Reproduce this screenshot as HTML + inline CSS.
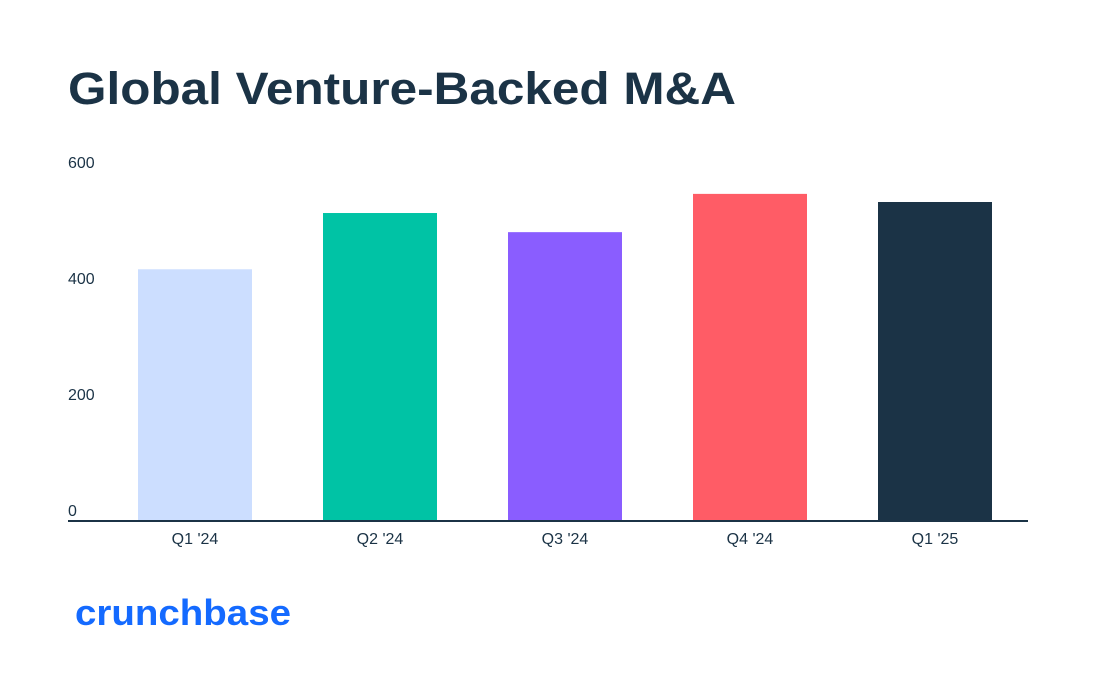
<!DOCTYPE html>
<html><head><meta charset="utf-8"><style>
body{margin:0;background:#fff;width:1100px;height:686px;overflow:hidden;font-family:"Liberation Sans",sans-serif}
</style></head><body>
<svg width="1100" height="686" xmlns="http://www.w3.org/2000/svg">
<text x="68" y="104" font-size="45" font-weight="bold" fill="#1b3346" textLength="668" lengthAdjust="spacingAndGlyphs">Global Venture-Backed M&amp;A</text>
<g id="bars"></g>
<g id="yticks"></g>
<g id="xticks"></g>
<line x1="68" x2="1028" y1="521" y2="521" stroke="#1b3346" stroke-width="2"/>
<text x="75" y="625" font-size="36" font-weight="bold" fill="#146aff" textLength="216" lengthAdjust="spacingAndGlyphs">crunchbase</text>
</svg>
<script>
const categories=["Q1 '24","Q2 '24","Q3 '24","Q4 '24","Q1 '25"];
const values=[434,531,498,564,550];
const colors=["#ccdeff","#00c3a5","#8a5dff","#ff5c66","#1b3346"];
const yTicks=[0,200,400,600];
const ns="http://www.w3.org/2000/svg";
const y=v=>521-v*0.58;
const xc=i=>195+i*185;
const bw=114;
const bars=document.getElementById('bars'),yt=document.getElementById('yticks'),xt=document.getElementById('xticks');
values.forEach((v,i)=>{
 const r=document.createElementNS(ns,'rect');
 r.setAttribute('x',xc(i)-bw/2);r.setAttribute('y',y(v));r.setAttribute('width',bw);r.setAttribute('height',521-y(v));r.setAttribute('fill',colors[i]);
 
 
 bars.appendChild(r);
 const t=document.createElementNS(ns,'text');
 t.setAttribute('x',xc(i));t.setAttribute('y',544);t.setAttribute('text-anchor','middle');t.setAttribute('font-size','16');t.setAttribute('fill','#1b3346');
 t.textContent=categories[i];
 
 
 xt.appendChild(t);
});
yTicks.forEach(v=>{
 const t=document.createElementNS(ns,'text');
 t.setAttribute('x',68);t.setAttribute('y',y(v)-5);t.setAttribute('font-size','16');t.setAttribute('fill','#1b3346');
 t.textContent=v;
 
 
 yt.appendChild(t);
});
</script>
</body></html>
